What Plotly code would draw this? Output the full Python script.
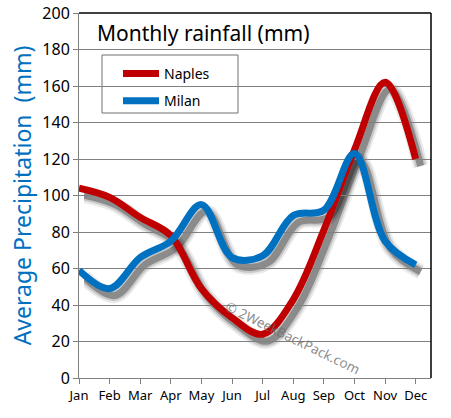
import plotly.graph_objects as go

months = ["Jan", "Feb", "Mar", "Apr", "May", "Jun", "Jul", "Aug", "Sep", "Oct", "Nov", "Dec"]
naples = [104, 99, 88, 78, 49, 33, 24, 43, 81, 125, 162, 120]
milan = [59, 49, 66, 75, 95, 66, 67, 89, 92, 123, 75, 62]
y_ticks = [0, 20, 40, 60, 80, 100, 120, 140, 160, 180, 200]

W, H = 451, 418
ml, mt = 79, 13
mr = W - 431 - 8     # 8px extra room for the shadow
mb = H - 378 - 8
pw, ph = W - ml - mr, H - mt - mb
dx, dy = 5, 7  # shadow offset in px

def px_x(xw):  # window x -> paper fraction
    return (xw - ml) / pw

def px_y(yw):  # window y -> paper fraction
    return (H - mb - yw) / ph

FONT = "Noto Sans"
fig = go.Figure()

# shadows on xy (drawn first)
for series in (naples, milan):
    for w, op in ((15, 0.08), (11, 0.14), (7, 0.30)):
        fig.add_trace(go.Scatter(x=months, y=series, mode="lines",
                                 line=dict(color="black", width=w, shape="spline", smoothing=1.0),
                                 opacity=op, showlegend=False, hoverinfo="skip",
                                 xaxis="x", yaxis="y"))

# main lines on x2y2
fig.add_trace(go.Scatter(x=months, y=naples, name="Naples", mode="lines", legendgroup="a",
                         line=dict(color="#C00000", width=7, shape="spline", smoothing=1.0),
                         xaxis="x2", yaxis="y2"))
fig.add_trace(go.Scatter(x=months, y=milan, name="Milan", mode="lines", legendgroup="b",
                         line=dict(color="#0070C0", width=7, shape="spline", smoothing=1.0),
                         xaxis="x2", yaxis="y2"))

main_x_dom = [0, (pw - 8) / pw]
main_y_dom = [8 / ph, 1]
sh_x_dom = [dx / pw, (pw - 8 + dx) / pw]
sh_y_dom = [(8 - dy) / ph, 1 - dy / ph]

fig.update_layout(
    width=W, height=H,
    margin=dict(l=ml, r=mr, t=mt, b=mb, autoexpand=False),
    paper_bgcolor="white", plot_bgcolor="rgba(0,0,0,0)",
    font=dict(family=FONT, color="black"),
    xaxis=dict(domain=sh_x_dom, range=[0, 11.5], visible=False, type="category",
               categoryorder="array", categoryarray=months, anchor="y", automargin=False),
    yaxis=dict(domain=sh_y_dom, range=[0, 200], visible=False, anchor="x", automargin=False),
    xaxis2=dict(domain=main_x_dom, range=[0, 11.5], type="category",
                categoryorder="array", categoryarray=months, anchor="y2",
                showgrid=False, showline=True, linecolor="#808080", linewidth=1,
                ticks="outside", ticklen=5, tickcolor="#808080", automargin=False,
                tickfont=dict(size=13, color="black")),
    yaxis2=dict(domain=main_y_dom, range=[0, 200], anchor="x2", automargin=False,
                tickvals=y_ticks, showgrid=True, gridcolor="#808080", gridwidth=1,
                showline=True, linecolor="#808080", linewidth=1,
                ticks="outside", ticklen=5, tickcolor="#808080",
                ticklabeloverflow="allow",
                tickfont=dict(size=16, color="black"), zeroline=False,
                title=dict(text="Average Precipitation  (mm)", font=dict(size=23, color="#0070C0"),
                           standoff=4)),
    legend=dict(x=px_x(118), y=px_y(58), xanchor="left", yanchor="top",
                bgcolor="rgba(0,0,0,0)", borderwidth=0,
                font=dict(size=14, color="black"), itemwidth=36,
                tracegroupgap=6),
    showlegend=True,
)

x1 = main_x_dom[1]
fig.add_shape(type="line", xref="paper", yref="paper", x0=0, x1=x1, y0=1, y1=1,
              line=dict(color="black", width=1.5))
fig.add_shape(type="line", xref="paper", yref="paper", x0=x1, x1=x1, y0=main_y_dom[0], y1=1,
              line=dict(color="black", width=1.5))
# legend frame
fig.add_shape(type="rect", xref="paper", yref="paper", x0=px_x(102), x1=px_x(238),
              y0=px_y(113), y1=px_y(55), line=dict(color="#707070", width=1),
              fillcolor="white", layer="below")

fig.add_annotation(text="Monthly rainfall (mm)", xref="paper", yref="paper",
                   x=px_x(95), y=px_y(33), xanchor="left", yanchor="middle",
                   showarrow=False, font=dict(size=21, color="black"))
fig.add_annotation(text="© 2WeekBackPack.com", xref="paper", yref="paper",
                   x=px_x(293), y=px_y(381), showarrow=False,
                   textangle=26, font=dict(size=13.5, color="rgba(110,110,110,0.8)"))

fig.write_html("out.html", config={"displayModeBar": False},
               post_script="document.body.style.margin='0';document.body.style.overflow='hidden';")
